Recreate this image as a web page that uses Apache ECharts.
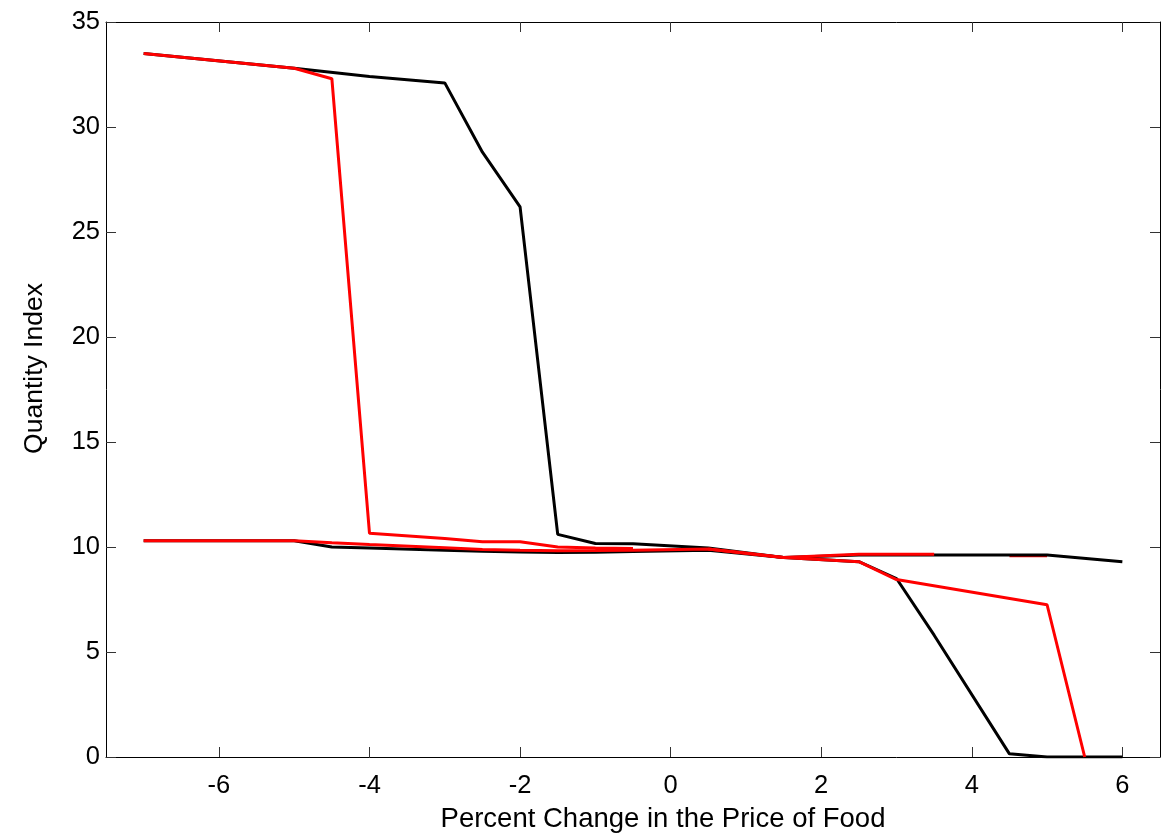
<!DOCTYPE html>
<html>
<head>
<meta charset="utf-8">
<script src="https://cdn.jsdelivr.net/npm/echarts@6/dist/echarts.min.js"></script>
<style>
html,body{margin:0;padding:0;background:#fff;}
#chart{width:1161px;height:834px;}
</style>
</head>
<body>
<div id="chart"></div>
<script>
const xTicks = [-6, -4, -2, 0, 2, 4, 6];

const blackUpperX = [-7, -5, -4, -3, -2.5, -2, -1.5, -1, -0.5, 0.5, 1.5, 2.5, 3, 3.5, 4.5, 5, 6];
const blackUpperY = [33.5, 32.8, 32.4, 32.1, 28.8, 26.2, 10.6, 10.17, 10.15, 9.95, 9.5, 9.3, 8.5, 5.8, 0.15, 0, 0];

const blackLowerX = [-7, -5, -4.5, -4, -3, -2.5, -2, -1.5, -1, -0.5, 0.5, 1.5, 2.5, 3.5, 5, 6];
const blackLowerY = [10.3, 10.3, 10.0, 9.95, 9.85, 9.8, 9.76, 9.74, 9.75, 9.78, 9.85, 9.5, 9.62, 9.62, 9.62, 9.3];

const redUpperX = [-7, -5, -4.5, -4, -3, -2.5, -2, -1.5, -1, -0.5];
const redUpperY = [33.5, 32.8, 32.3, 10.65, 10.4, 10.25, 10.25, 10.0, 9.95, 9.93];

const redLowerX = [-7, -5, -4.5, -4, -3, -2.5, -2, -1.5, -1, -0.5, 0.5, 1.5, 2.5, 3.5];
const redLowerY = [10.3, 10.3, 10.2, 10.12, 9.97, 9.88, 9.84, 9.82, 9.83, 9.85, 9.9, 9.5, 9.66, 9.66];

const redDropX = [0.5, 1.5, 2.5, 3, 5, 5.5];
const redDropY = [9.9, 9.5, 9.3, 8.45, 7.25, 0];

const redPieceX = [4.5, 5];
const redPieceY = [9.58, 9.58];

function pts(xs, ys) { return xs.map((x, i) => [x, ys[i]]); }

const FONT = 'Liberation Sans, Arial, Helvetica, sans-serif';
const chart = echarts.init(document.getElementById('chart'), null, {renderer: 'canvas'});

function xAx(pos, labels) {
  return {
    type: 'value', position: pos, min: -7.5, max: 6.5,
    axisLine: {show: true, onZero: false, lineStyle: {color: '#000', width: 1}},
    axisTick: {show: true, inside: true, length: 10, customValues: xTicks, lineStyle: {color: '#333', width: 1}},
    axisLabel: {show: labels, customValues: xTicks, color: '#000', fontSize: 25.5, fontFamily: FONT, margin: 16},
    splitLine: {show: false},
    name: labels ? 'Percent Change in the Price of Food' : '',
    nameLocation: 'middle', nameGap: 48,
    nameTextStyle: {color: '#000', fontSize: 27.5, fontFamily: FONT, padding: [0, 0, 0, 60]}
  };
}
function yAx(pos, labels) {
  return {
    type: 'value', position: pos, min: 0, max: 35, interval: 5,
    axisLine: {show: true, onZero: false, lineStyle: {color: '#000', width: 1}},
    axisTick: {show: true, inside: true, length: 10, lineStyle: {color: '#333', width: 1}},
    axisLabel: {show: labels, color: '#000', fontSize: 25.5, fontFamily: FONT, margin: 6},
    splitLine: {show: false},
    name: labels ? 'Quantity Index' : '',
    nameLocation: 'middle', nameGap: 58,
    nameTextStyle: {color: '#000', fontSize: 26.5, fontFamily: FONT, padding: [0, 0, 0, 42]}
  };
}
function ser(xs, ys, color) {
  return {
    type: 'line', xAxisIndex: 0, yAxisIndex: 0, data: pts(xs, ys),
    showSymbol: false, symbol: 'none', lineStyle: {color: color, width: 3}, itemStyle: {color: color},
    emphasis: {disabled: true}
  };
}

chart.setOption({
  animation: false,
  backgroundColor: '#fff',
  grid: {left: 106, right: 1, top: 22, bottom: 77, containLabel: false, outerBoundsMode: 'none'},
  xAxis: [xAx('bottom', true), xAx('top', false)],
  yAxis: [yAx('left', true), yAx('right', false)],
  series: [
    ser(redPieceX, redPieceY, '#ff0000'),
    ser(blackLowerX, blackLowerY, '#000000'),
    ser(blackUpperX, blackUpperY, '#000000'),
    ser(redLowerX, redLowerY, '#ff0000'),
    ser(redDropX, redDropY, '#ff0000'),
    ser(redUpperX, redUpperY, '#ff0000')
  ]
});
</script>
</body>
</html>
